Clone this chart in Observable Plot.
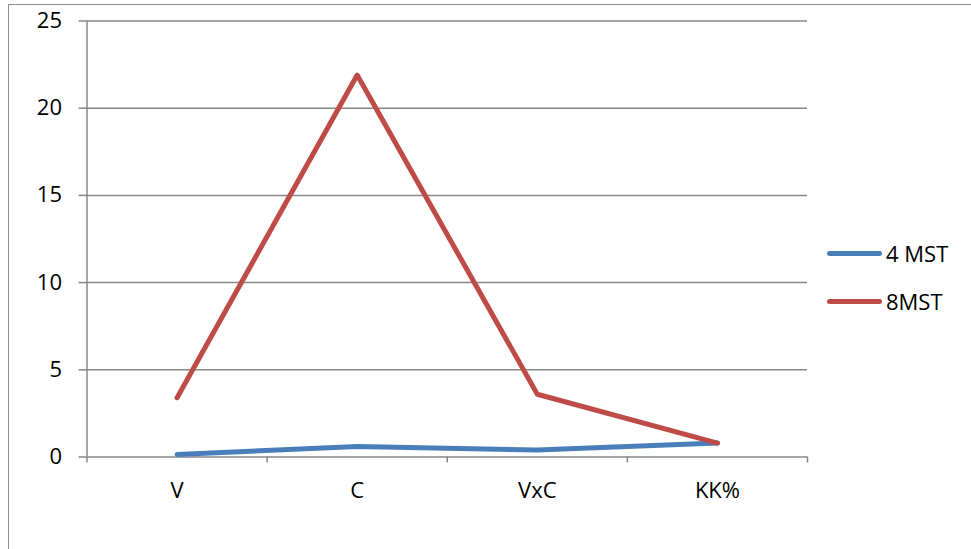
<!DOCTYPE html>
<html>
<head>
<meta charset="utf-8">
<script src="https://cdn.jsdelivr.net/npm/d3@7"></script>
<script src="https://cdn.jsdelivr.net/npm/@observablehq/plot@0.6"></script>
<style>
  html, body { margin: 0; padding: 0; background: #fff; width: 971px; height: 549px; overflow: hidden; position: relative; }
  #frame { position: absolute; left: 8px; top: 4px; width: 1000px; height: 600px; border-left: 1.5px solid #8a8a8a; border-top: 1.5px solid #8a8a8a; box-sizing: border-box; }
  #chart { position: absolute; left: 0; top: 0; }
  #legend { position: absolute; left: 827px; top: 0; font-family: "Open Sans", sans-serif; font-size: 22px; color: #000; }
  .item { position: absolute; left: 0; display: flex; align-items: center; white-space: nowrap; height: 30px; }
  .sw { width: 55px; height: 5px; border-radius: 3px; margin-right: 4px; }
</style>
</head>
<body>
<div id="frame"></div>
<div id="chart"></div>
<div id="legend"></div>
<script>
const categories = ["V", "C", "VxC", "KK%"];
const seriesNames = ["4 MST", "8MST"];
const mst4 = [0.15, 0.6, 0.4, 0.8];
const mst8 = [3.4, 21.9, 3.6, 0.8];
const yTicks = [0, 5, 10, 15, 20, 25];
const colors = ["#4a7ebb", "#be4b48"];

const data = [];
seriesNames.forEach((s, si) => {
  const vals = si === 0 ? mst4 : mst8;
  categories.forEach((c, i) => data.push({ series: s, cat: c, idx: i + 0.5, value: vals[i] }));
});
const boundaries = d3.range(categories.length + 1);
const centers = categories.map((c, i) => i + 0.5);
const grey = "#878787";

const chart = Plot.plot({
  width: 971,
  height: 549,
  marginLeft: 86.5,
  marginRight: 164,
  marginTop: 20.5,
  marginBottom: 92.5,
  x: { domain: [0, categories.length] },
  y: { domain: [0, 25] },
  color: { domain: seriesNames, range: colors },
  style: { fontFamily: "'Open Sans', sans-serif", fontSize: "22px", color: "#000", background: "transparent" },
  marks: [
    Plot.gridY(yTicks, { stroke: grey, strokeOpacity: 1, strokeWidth: 1.5 }),
    Plot.ruleX([0], { stroke: grey, strokeWidth: 1.5 }),
    Plot.axisY(yTicks, { tickSize: 8, tickPadding: 17, stroke: grey, strokeWidth: 1.5, fill: "#000", label: null }),
    Plot.axisX(boundaries, { tickSize: 6, tickFormat: () => "", stroke: grey, strokeWidth: 1.5, label: null }),
    Plot.axisX(centers, { tickSize: 0, tickPadding: 25, tickFormat: d => categories[Math.round(d - 0.5)], fill: "#000", label: null }),
    Plot.lineY(data, { x: "idx", y: "value", z: "series", stroke: "series", strokeWidth: 5, strokeLinecap: "round", strokeLinejoin: "round" })
  ]
});
document.getElementById("chart").appendChild(chart);

const legend = document.getElementById("legend");
const legendY = [253, 301];
seriesNames.forEach((s, i) => {
  const it = document.createElement("div");
  it.className = "item";
  it.style.top = (legendY[i] - 15) + "px";
  const sw = document.createElement("div");
  sw.className = "sw";
  sw.style.background = colors[i];
  const t = document.createElement("span");
  t.textContent = s;
  it.appendChild(sw);
  it.appendChild(t);
  legend.appendChild(it);
});
</script>
</body>
</html>
